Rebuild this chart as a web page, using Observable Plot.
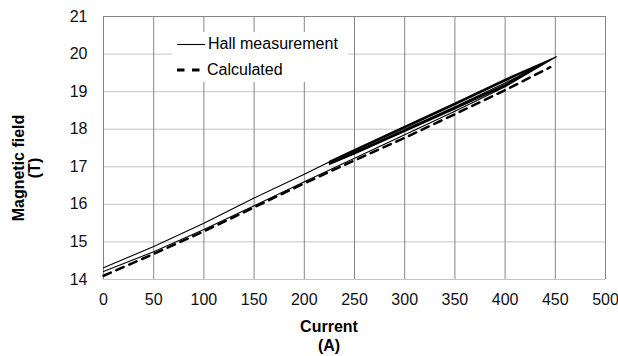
<!DOCTYPE html>
<html><head><meta charset="utf-8">
<script src="https://cdn.jsdelivr.net/npm/d3@7"></script>
<script src="https://cdn.jsdelivr.net/npm/@observablehq/plot@0.6"></script>
<style>
html,body{margin:0;padding:0;background:#fff;}
#wrap{position:relative;width:618px;height:356px;font-family:"Liberation Sans",Arial,sans-serif;}
#legend{position:absolute;left:172px;top:32px;width:176px;height:50px;background:#fff;font-size:16px;color:#000;}
#legend .row{position:absolute;left:0;height:20px;line-height:20px;white-space:nowrap;}
#legend svg{position:absolute;left:0;top:0;}
#legend span{position:absolute;top:0;}
</style></head><body><div id="wrap"></div>
<script>
// Hall measurement: initial ramp up, three cycles between 225 A and 451 A, final ramp down
const rampCurrent   = [0, 50, 100, 150, 200, 250, 300, 350, 400, 451];
const hallRampUp    = [14.21, 14.74, 15.33, 15.96, 16.60, 17.23, 17.85, 18.48, 19.13, 19.93];
const hallFinalDown = [14.31, 14.88, 15.50, 16.17, 16.80, 17.46, 18.08, 18.70, 19.33, 19.93];
const cycleCurrent  = [451, 400, 350, 300, 250, 225];
const cycleDown1    = [19.93, 19.32, 18.69, 18.07, 17.46, 17.15];
const cycleUp1      = [19.93, 19.19, 18.57, 17.96, 17.36, 17.07];
const cycleDown2    = [19.93, 19.30, 18.67, 18.05, 17.44, 17.13];
const cycleUp2      = [19.93, 19.16, 18.54, 17.94, 17.34, 17.06];
const cycleDown3    = [19.93, 19.28, 18.65, 18.03, 17.42, 17.12];
const cycleUp3      = [19.93, 19.23, 18.60, 17.99, 17.39, 17.09];
// Calculated
const calcCurrent = [0, 50, 100, 150, 200, 250, 300, 350, 400, 445];
const calcField   = [14.10, 14.68, 15.28, 15.92, 16.56, 17.17, 17.77, 18.40, 19.04, 19.65];
// Axes
const xTicks = [0, 50, 100, 150, 200, 250, 300, 350, 400, 450, 500];
const yTicks = [14, 15, 16, 17, 18, 19, 20, 21];
const seriesNames = ["Hall measurement", "Calculated"];
const xLabel = ["Current", "(A)"];
const yLabel = ["Magnetic field", "(T)"];

// Build the Hall path in measurement order
const hall = [];
const push = (cs, fs) => cs.forEach((c, i) => hall.push({current: c, field: fs[i]}));
push(rampCurrent, hallRampUp);
const asc = cycleCurrent.slice().reverse();
push(cycleCurrent, cycleDown1);
push(asc, cycleUp1.slice().reverse());
push(cycleCurrent, cycleDown2);
push(asc, cycleUp2.slice().reverse());
push(cycleCurrent, cycleDown3);
push(asc, cycleUp3.slice().reverse());
push(rampCurrent.slice().reverse(), hallFinalDown.slice().reverse());
const calc = calcCurrent.map((c, i) => ({current: c, field: calcField[i]}));

const plot = Plot.plot({
  width: 618, height: 356,
  marginLeft: 103, marginRight: 13, marginTop: 16, marginBottom: 77,
  style: {fontFamily: '"Liberation Sans", Arial, sans-serif', fontSize: "16px", color: "#000", background: "#fff", overflow: "visible"},
  x: {domain: [0, 500], ticks: xTicks, tickSize: 0, tickPadding: 14, label: null},
  y: {domain: [14, 21], ticks: yTicks, tickSize: 0, tickPadding: 16, label: null},
  marks: [
    Plot.gridY(yTicks, {stroke: "#c4c4c4", strokeOpacity: 1}),
    Plot.gridX(xTicks, {stroke: "#858585", strokeOpacity: 1}),
    Plot.ruleY([21], {stroke: "#858585"}),
    Plot.line(calc, {x: "current", y: "field", stroke: "#000", strokeWidth: 2.5, strokeDasharray: "8,6"}),
    Plot.line(hall, {x: "current", y: "field", stroke: "#000", strokeWidth: 1.1}),
    Plot.axisX(xTicks, {tickSize: 0, tickPadding: 14, fill: "#111"}),
    Plot.axisY(yTicks, {tickSize: 0, tickPadding: 16, fill: "#111"})
  ]
});
const wrap = document.getElementById("wrap");
wrap.appendChild(plot);

// Axis titles as SVG text
const svg = d3.select(plot);
const xt = svg.append("text").attr("text-anchor", "middle").attr("font-weight", "bold").attr("font-size", 16).attr("fill", "#000");
xt.append("tspan").attr("x", 329).attr("y", 332).text(xLabel[0]);
xt.append("tspan").attr("x", 329).attr("y", 351).text(xLabel[1]);
const yt = svg.append("text").attr("text-anchor", "middle").attr("font-weight", "bold").attr("font-size", 16).attr("fill", "#000")
  .attr("transform", "translate(0,168) rotate(-90)");
yt.append("tspan").attr("x", 0).attr("y", 24).text(yLabel[0]);
yt.append("tspan").attr("x", 0).attr("y", 40).text(yLabel[1]);

// Legend
const legend = document.createElement("div");
legend.id = "legend";
legend.innerHTML = `
 <div class="row" style="top:2px;width:176px">
   <svg width="34" height="20"><line x1="5" x2="33" y1="10.5" y2="10.5" stroke="#000" stroke-width="1.1"/></svg>
   <span style="left:36px">${seriesNames[0]}</span></div>
 <div class="row" style="top:28px;width:176px">
   <svg width="34" height="20"><line x1="5" x2="28" y1="10" y2="10" stroke="#000" stroke-width="2.8" stroke-dasharray="7.5,7.5"/></svg>
   <span style="left:35px">${seriesNames[1]}</span></div>`;
wrap.appendChild(legend);
</script></body></html>
